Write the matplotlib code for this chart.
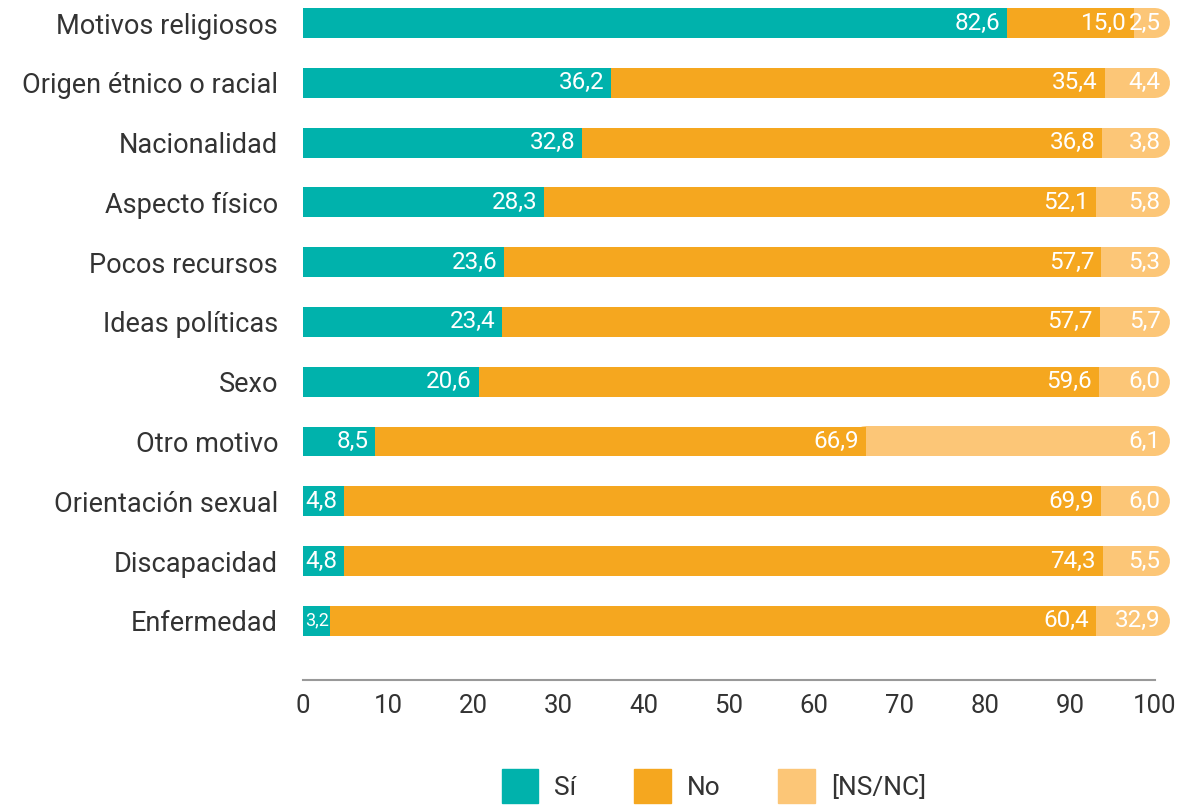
import matplotlib
matplotlib.use("Agg")
import matplotlib.pyplot as plt
from matplotlib.patches import Patch

# categories, top to bottom
motivos = ['Motivos religiosos', 'Origen étnico o racial', 'Nacionalidad',
           'Aspecto físico', 'Pocos recursos', 'Ideas políticas', 'Sexo',
           'Otro motivo', 'Orientación sexual', 'Discapacidad', 'Enfermedad']

# printed labels
si = [82.6, 36.2, 32.8, 28.3, 23.6, 23.4, 20.6, 8.5, 4.8, 4.8, 3.2]
no = [15.0, 35.4, 36.8, 52.1, 57.7, 57.7, 59.6, 66.9, 69.9, 74.3, 60.4]
nsnc = [2.5, 4.4, 3.8, 5.8, 5.3, 5.7, 6.0, 6.1, 6.0, 5.5, 32.9]

# where the orange segment ends as drawn in the original (does not match labels)
no_fin = [97.5, 94.1, 93.8, 93.1, 93.7, 93.5, 93.4, 66.1, 93.7, 93.9, 93.1]
total = 100

ticks = [0, 10, 20, 30, 40, 50, 60, 70, 80, 90, 100]

c_si = '#00B2AC'
c_no = '#F5A71F'
c_ns = '#FCC677'
txt = '#333333'

plt.rcParams['font.family'] = ['Roboto', 'DejaVu Sans']

fig = plt.figure(figsize=(11.8, 8.07), dpi=100)
ax = fig.add_axes([303/1180, 127/807, 852/1180, 680/807])

bh = 0.5
lw_pt = 30 * 72 / 100  # bar height in points for the rounded light segment


def lab(v):
    return ('%.1f' % v).replace('.', ',')


for i in range(len(motivos)):
    # light segment with round end (left cap hidden under orange)
    ax.plot([no_fin[i], total], [i, i], color=c_ns, lw=lw_pt,
            solid_capstyle='round', zorder=1, clip_on=False)
    ax.barh(i, no_fin[i] - si[i], left=si[i], height=bh, color=c_no, zorder=2)
    ax.barh(i, si[i], height=bh, color=c_si, zorder=3)

    if si[i] < 4:
        ax.annotate(lab(si[i]), xy=(si[i], i), xytext=(-1, 0),
                    textcoords='offset points', ha='right', va='center',
                    color='white', fontsize=13, zorder=5)
    else:
        ax.annotate(lab(si[i]), xy=(si[i], i), xytext=(-5, 0),
                    textcoords='offset points', ha='right', va='center',
                    color='white', fontsize=17.5, zorder=5)
    ax.annotate(lab(no[i]), xy=(no_fin[i], i), xytext=(-5, 0),
                textcoords='offset points', ha='right', va='center',
                color='white', fontsize=17.5, zorder=5)
    ax.annotate(lab(nsnc[i]), xy=(total, i), xytext=(4, 0),
                textcoords='offset points', ha='right', va='center',
                color='white', fontsize=17.5, zorder=5, annotation_clip=False)

ax.set_xlim(0, 100)
ax.set_ylim(10.99, -0.385)
ax.set_yticks(range(len(motivos)))
ax.set_yticklabels(motivos, fontsize=19.5, color=txt)
ax.set_xticks(ticks)
ax.set_xticklabels([str(t) for t in ticks], fontsize=18.5, color=txt)
ax.tick_params(axis='both', length=0)
ax.tick_params(axis='x', pad=10)
ax.tick_params(axis='y', pad=18)

for s in ['left', 'top', 'right']:
    ax.spines[s].set_visible(False)
ax.spines['bottom'].set_color('#999999')
ax.spines['bottom'].set_linewidth(1.5)

handles = [Patch(color=c_si, label='Sí'), Patch(color=c_no, label='No'),
           Patch(color=c_ns, label='[NS/NC]')]
leg = fig.legend(handles=handles, loc='lower center', ncol=3, frameon=False,
                 bbox_to_anchor=(0.605, -0.008), fontsize=19,
                 handlelength=1.38, handleheight=1.6, handletextpad=0.6,
                 columnspacing=2.2, borderaxespad=0)
for t in leg.get_texts():
    t.set_color(txt)

fig.savefig('out.png', dpi=100)
